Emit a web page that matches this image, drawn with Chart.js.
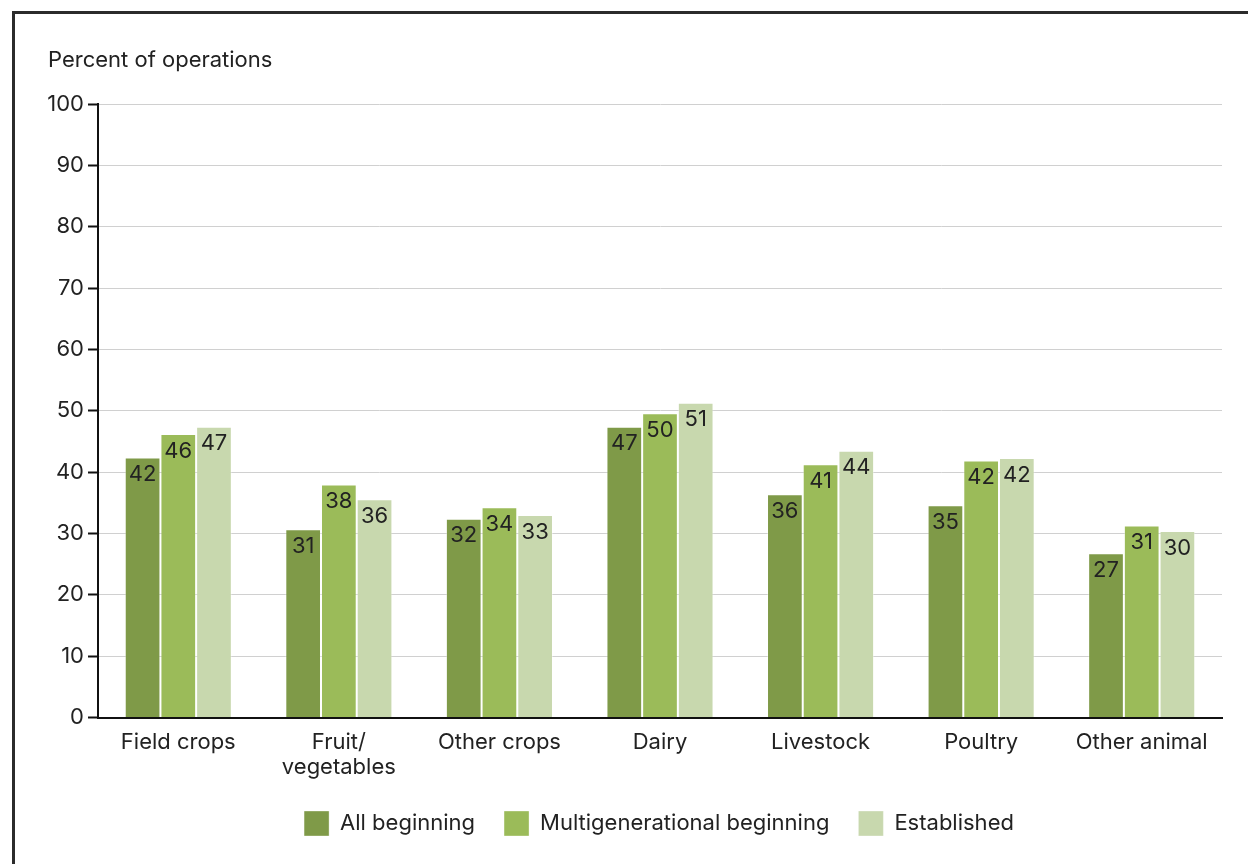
<!DOCTYPE html>
<html>
<head>
<meta charset="utf-8">
<script src="https://cdn.jsdelivr.net/npm/chart.js@4.4.1/dist/chart.umd.min.js"></script>
<style>
  html, body { margin: 0; padding: 0; background: #fff; }
  body { width: 1248px; height: 864px; position: relative; overflow: hidden; }
  #frame {
    position: absolute; left: 12px; top: 11px; width: 1300px; height: 900px;
    border-left: 3px solid #2b2b2b; border-top: 3px solid #2b2b2b;
    box-sizing: border-box;
  }
  #wrap { position: absolute; left: 0; top: 0; width: 1248px; height: 864px; }
</style>
</head>
<body>
<div id="frame"></div>
<div id="wrap"><canvas id="chart" width="1248" height="864"></canvas></div>
<script>
// categories and series
const categories = ['Field crops', ['Fruit/', 'vegetables'], 'Other crops', 'Dairy', 'Livestock', 'Poultry', 'Other animal'];
const allBeginning = [42.4, 30.7, 32.4, 47.4, 36.4, 34.6, 26.8];
const multigenBeginning = [46.2, 38.0, 34.3, 49.6, 41.3, 41.9, 31.3];
const established = [47.4, 35.6, 33.0, 51.3, 43.5, 42.3, 30.4];
const seriesNames = ['All beginning', 'Multigenerational beginning', 'Established'];
const yTicks = [0, 10, 20, 30, 40, 50, 60, 70, 80, 90, 100];

const FONT = 'Inter, Roboto, "Liberation Sans", sans-serif';
const FONT_SIZE = 22;
const textColor = '#222222';

// rounded values written inside the top of each bar
const barLabels = {
    id: 'barLabels',
    afterDatasetsDraw(chart) {
        const ctx = chart.ctx;
        ctx.save();
        ctx.font = FONT_SIZE + 'px ' + FONT;
        ctx.fillStyle = textColor;
        ctx.textAlign = 'center';
        ctx.textBaseline = 'middle';
        chart.data.datasets.forEach((ds, i) => {
            chart.getDatasetMeta(i).data.forEach((bar, j) => {
                ctx.fillText(String(Math.round(ds.data[j])), bar.x, bar.y + 17);
            });
        });
        ctx.restore();
    }
};

// axis heading above the plot
const axisHeading = {
    id: 'axisHeading',
    afterDraw(chart) {
        const ctx = chart.ctx;
        ctx.save();
        ctx.font = FONT_SIZE + 'px ' + FONT;
        ctx.fillStyle = textColor;
        ctx.textAlign = 'left';
        ctx.textBaseline = 'middle';
        ctx.fillText('Percent of operations', 48, 60);
        ctx.restore();
    }
};

// centre the legend under the whole page width rather than the padded box
const legendShift = {
    id: 'legendShift',
    afterLayout(chart) {
        const lg = chart.legend;
        if (!lg) return;
        const dx = (chart.width / 2 + 35) - (lg.left + lg.right) / 2;
        lg.left += dx;
        lg.right += dx;
    }
};

const colors = ['#7f9a48', '#9bbb59', '#c8d8ae'];
const seriesData = [allBeginning, multigenBeginning, established];

new Chart(document.getElementById('chart'), {
    type: 'bar',
    data: {
        labels: categories,
        datasets: seriesData.map((d, i) => ({
            label: seriesNames[i],
            data: d,
            backgroundColor: colors[i],
            borderColor: 'rgba(255,255,255,0.35)',
            borderWidth: 1,
            borderSkipped: 'bottom',
            categoryPercentage: 0.667,
            barPercentage: 1.0
        }))
    },
    options: {
        responsive: false,
        animation: false,
        layout: { padding: { left: 38, top: 104, right: 26, bottom: 18 } },
        plugins: {
            legend: {
                position: 'bottom',
                labels: {
                    boxWidth: 25,
                    boxHeight: 25,
                    padding: 29,
                    color: textColor,
                    font: { family: FONT, size: FONT_SIZE }
                }
            },
            tooltip: { enabled: false }
        },
        scales: {
            x: {
                afterFit: (scale) => { scale.height -= 10; },
                grid: { display: false, drawTicks: false },
                border: { color: '#111', width: 2 },
                ticks: { color: textColor, font: { family: FONT, size: FONT_SIZE, lineHeight: 1.1 }, padding: 13 }
            },
            y: {
                min: 0,
                max: 100,
                afterFit: (scale) => { scale.width = 60; },
                afterBuildTicks: (scale) => { scale.ticks = yTicks.map(v => ({ value: v })); },
                grid: { color: '#d0d0d0', lineWidth: 1, tickColor: '#111', tickLength: 10, tickWidth: 2 },
                border: { color: '#111', width: 2 },
                ticks: { color: textColor, font: { family: FONT, size: FONT_SIZE }, padding: 4 }
            }
        }
    },
    plugins: [barLabels, axisHeading, legendShift]
});
</script>
</body>
</html>
